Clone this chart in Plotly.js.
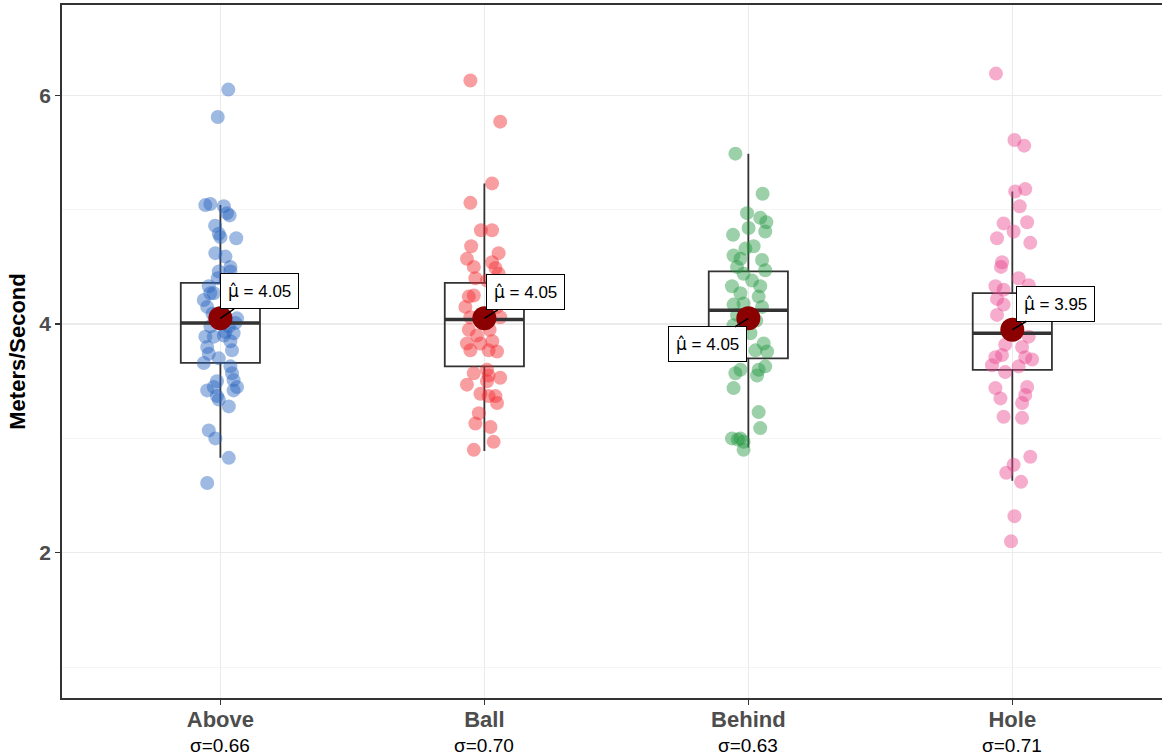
<!DOCTYPE html>
<html><head><meta charset="utf-8">
<script src="https://cdn.plot.ly/plotly-3.0.1.min.js"></script>
<style>html,body{margin:0;padding:0;background:#fff;overflow:hidden}</style>
</head><body><div id="chart" style="width:1162px;height:756px"></div>
<script>
const categories = ["Above", "Ball", "Behind", "Hole"];
const sigmaLabels = ["σ=0.66", "σ=0.70", "σ=0.63", "σ=0.71"];
const means = [4.05, 4.05, 4.05, 3.95];
const q1 = [3.66, 3.63, 3.70, 3.60];
const medians = [4.01, 4.04, 4.12, 3.92];
const q3 = [4.36, 4.36, 4.46, 4.27];
const lowerWhisker = [2.83, 2.89, 2.92, 2.63];
const upperWhisker = [5.04, 5.23, 5.49, 5.16];

const aboveValues = [6.05,5.81,5.04,5.05,5.03,4.95,4.97,4.86,4.79,4.75,4.76,4.62,4.59,4.50,4.46,4.46,4.40,4.38,4.33,4.27,4.27,4.21,4.15,4.09,4.08,4.05,4.01,3.98,3.98,3.93,3.92,3.89,3.89,3.90,3.85,3.80,3.77,3.74,3.70,3.66,3.63,3.57,3.50,3.51,3.45,3.45,3.42,3.42,3.37,3.34,3.28,3.07,3.00,2.83,2.61];
const aboveJitter = [0.03,-0.01,-0.057,-0.038,0.013,0.035,0.025,-0.02,-0.006,0.06,0.0,-0.019,0.019,0.038,-0.006,0.038,-0.01,0.02,-0.044,-0.038,-0.025,-0.063,-0.05,-0.03,0.0,0.063,0.057,0.032,-0.038,0.019,0.05,-0.057,-0.025,0.013,0.038,-0.05,0.044,-0.044,-0.006,-0.063,0.038,0.044,-0.013,0.05,0.063,-0.025,-0.05,0.05,-0.013,-0.006,0.032,-0.044,-0.019,0.032,-0.05];

const ballValues = [6.13,5.77,5.23,5.06,4.82,4.82,4.68,4.62,4.57,4.54,4.50,4.49,4.44,4.40,4.38,4.24,4.25,4.15,4.15,4.06,4.06,3.95,3.95,3.90,3.85,3.83,3.83,3.77,3.76,3.77,3.57,3.60,3.55,3.53,3.47,3.50,3.39,3.37,3.31,3.37,3.22,3.13,3.10,2.97,2.90];
const ballJitter = [-0.053,0.06,0.029,-0.053,-0.013,0.029,-0.05,0.054,-0.066,0.029,-0.04,0.042,0.054,-0.034,0.01,-0.059,-0.04,-0.072,0.048,-0.053,0.06,-0.059,0.02,-0.028,0.03,-0.066,-0.015,0.016,0.048,-0.053,-0.04,0.01,0.016,0.06,-0.066,0.01,-0.015,0.016,0.048,0.042,-0.021,-0.034,0.023,0.035,-0.04];

const behindValues = [5.49,5.14,4.97,4.93,4.89,4.81,4.84,4.78,4.66,4.68,4.60,4.57,4.56,4.50,4.47,4.44,4.38,4.33,4.33,4.27,4.24,4.17,4.18,4.15,4.08,4.03,3.99,3.92,3.83,3.76,3.77,3.63,3.60,3.60,3.57,3.55,3.44,3.23,3.09,3.00,3.00,2.97,2.99,2.90];
const behindJitter = [-0.049,0.054,-0.005,0.045,0.068,0.064,0.001,-0.058,-0.011,0.02,-0.056,-0.03,0.052,-0.043,0.064,-0.018,0.014,-0.062,0.045,-0.03,0.039,-0.056,-0.018,0.052,-0.043,0.03,-0.056,0.008,0.058,0.071,0.027,0.064,0.039,-0.03,-0.049,0.033,-0.056,0.039,0.045,-0.062,-0.03,-0.018,-0.04,-0.018];

const holeValues = [6.19,5.61,5.56,5.16,5.18,5.03,4.88,4.89,4.81,4.75,4.71,4.54,4.50,4.40,4.34,4.33,4.30,4.22,4.17,4.08,3.89,3.82,3.80,3.71,3.73,3.71,3.69,3.64,3.58,3.63,3.45,3.44,3.38,3.31,3.35,3.19,3.18,2.84,2.77,2.70,2.62,2.32,2.10];
const holeJitter = [-0.062,0.008,0.045,0.011,0.049,0.028,-0.033,0.056,0.005,-0.058,0.068,-0.039,-0.043,0.024,0.062,-0.064,-0.033,-0.058,-0.033,-0.058,0.062,-0.027,0.037,-0.064,-0.039,0.049,0.075,-0.077,-0.027,0.024,0.056,-0.064,0.049,0.037,-0.045,-0.033,0.037,0.068,0.005,-0.023,0.033,0.008,-0.005];

const pointColors = ["rgb(40,100,190)", "rgb(242,40,45)", "rgb(35,150,65)", "rgb(232,70,145)"];
const groups = [
  [aboveValues, aboveJitter], [ballValues, ballJitter],
  [behindValues, behindJitter], [holeValues, holeJitter]
];

const traces = [];
groups.forEach(function (g, i) {
  traces.push({
    type: "scatter", mode: "markers",
    x: g[1].map(function (d) { return i + 1 + d; }),
    y: g[0],
    marker: { size: 14, color: pointColors[i], opacity: 0.45, line: { width: 0 } },
    hoverinfo: "y", showlegend: false
  });
});
categories.forEach(function (c, i) {
  traces.push({
    type: "box", x0: i + 1, q1: [q1[i]], median: [medians[i]], q3: [q3[i]],
    lowerfence: [lowerWhisker[i]], upperfence: [upperWhisker[i]],
    width: 0.3, whiskerwidth: 0, fillcolor: "rgba(0,0,0,0)",
    line: { color: "#333333", width: 1.8 }, boxpoints: false, showlegend: false, hoverinfo: "skip"
  });
});
// thicker median lines
const medX = [], medY = [];
medians.forEach(function (m, i) { medX.push(i + 1 - 0.15, i + 1 + 0.15, null); medY.push(m, m, null); });
traces.push({ type: "scatter", mode: "lines", x: medX, y: medY, line: { color: "#333333", width: 3.5 }, showlegend: false, hoverinfo: "skip" });
// means
traces.push({
  type: "scatter", mode: "markers", x: [1, 2, 3, 4], y: means,
  marker: { size: 24, color: "#8B0000", line: { width: 0 } }, showlegend: false
});

const offsets = [[39, -27], [41, -26], [-41, 26], [43, -26]];
const annotations = means.map(function (m, i) {
  return {
    x: i + 1, y: m, xref: "x", yref: "y",
    text: "<span style=\"font-family:'DejaVu Sans'\">\u03BC\u0302</span> = " + m.toFixed(2),
    showarrow: true, arrowhead: 0, arrowwidth: 1.6, arrowcolor: "#000",
    ax: offsets[i][0], ay: offsets[i][1], standoff: 0,
    bgcolor: "#ffffff", bordercolor: "#000000", borderwidth: 1, borderpad: 7,
    font: { family: "Liberation Sans, Arial, sans-serif", size: 17, color: "#000" }
  };
});
// sigma labels beneath the category names
sigmaLabels.forEach(function (s, i) {
  annotations.push({
    x: i + 1, xref: "x", y: -0.068, yref: "paper", yanchor: "middle",
    text: s, showarrow: false,
    font: { family: "Liberation Sans, Arial, sans-serif", size: 19, color: "#000" }
  });
});

const layout = {
  width: 1162, height: 756,
  margin: { l: 62, r: 0, t: 5, b: 58 },
  paper_bgcolor: "#ffffff", plot_bgcolor: "#ffffff",
  font: { family: "Liberation Sans, Arial, sans-serif" },
  xaxis: {
    range: [0.4, 4.567], tickvals: [1, 2, 3, 4], ticktext: categories,
    tickfont: { size: 22, color: "#4D4D4D", weight: "bold" }, ticklabelstandoff: -4,
    showgrid: true, gridcolor: "#EBEBEB", gridwidth: 1.2, zeroline: false,
    showline: true, linecolor: "#333333", linewidth: 1.8, mirror: true,
    ticks: "outside", ticklen: 5, tickcolor: "#333333", tickwidth: 1.2
  },
  yaxis: {
    range: [0.73, 6.79], tickvals: [2, 4, 6],
    tickfont: { size: 21, color: "#4D4D4D", weight: "bold" },
    showgrid: true, gridcolor: "#EBEBEB", gridwidth: 1.2, zeroline: false,
    minor: { tickvals: [1, 3, 5], showgrid: true, gridcolor: "#F2F2F2", gridwidth: 0.8, ticks: "" },
    showline: true, linecolor: "#333333", linewidth: 1.8,
    ticks: "outside", ticklen: 5, tickcolor: "#333333", tickwidth: 1.2,
    title: { text: "<b>Meters/Second</b>", font: { size: 22, color: "#000" }, standoff: 8 }
  },
  annotations: annotations,
  showlegend: false
};

Plotly.newPlot("chart", traces, layout, { displayModeBar: false, staticPlot: true });
</script>
</body></html>
